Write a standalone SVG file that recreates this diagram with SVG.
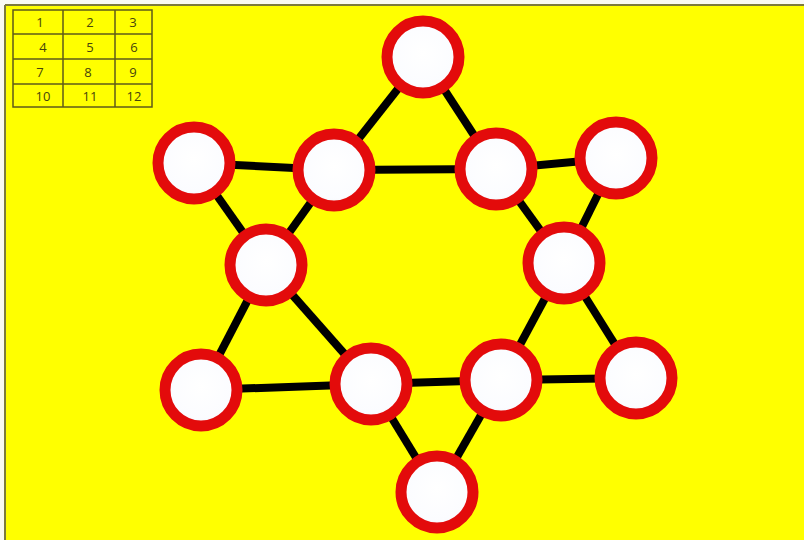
<svg xmlns="http://www.w3.org/2000/svg" width="804" height="540" viewBox="0 0 804 540">
<defs>
<radialGradient id="fill" cx="50%" cy="45%" r="55%">
<stop offset="0%" stop-color="#ffffff"/>
<stop offset="80%" stop-color="#fbfcff"/>
<stop offset="100%" stop-color="#f2f5fb"/>
</radialGradient>
</defs>
<style>
.node{fill:url(#fill);stroke:#e30b0b;stroke-width:11}
.edge{stroke:#000;stroke-width:8;stroke-linecap:butt}
.grid{stroke:#5e5a1a;stroke-width:1.5;fill:none}
.num{font-family:"Open Sans","Liberation Sans",Arial,sans-serif;font-size:13px;fill:#47440c;text-anchor:middle}
</style>
<rect x="0" y="0" width="804" height="540" fill="#fafaf2"/>
<rect x="5" y="5" width="799" height="535" fill="#ffff00"/>
<line x1="5" y1="5" x2="804" y2="5" stroke="#7d7a3c" stroke-width="2"/>
<line x1="5" y1="5" x2="5" y2="540" stroke="#7d7a3c" stroke-width="2"/>
<g id="table">
<rect class="grid" x="13" y="10" width="139" height="97"/>
<line class="grid" x1="63" y1="10" x2="63" y2="107"/>
<line class="grid" x1="115" y1="10" x2="115" y2="107"/>
<line class="grid" x1="13" y1="34" x2="152" y2="34"/>
<line class="grid" x1="13" y1="59" x2="152" y2="59"/>
<line class="grid" x1="13" y1="84" x2="152" y2="84"/>
<text class="num" x="40" y="27">1</text><text class="num" x="90" y="27">2</text><text class="num" x="133" y="27">3</text>
<text class="num" x="43" y="52">4</text><text class="num" x="90" y="52">5</text><text class="num" x="134" y="52">6</text>
<text class="num" x="40" y="77">7</text><text class="num" x="88" y="77">8</text><text class="num" x="133" y="77">9</text>
<text class="num" x="43" y="101">10</text><text class="num" x="90" y="101">11</text><text class="num" x="134" y="101">12</text>
</g>
<g id="connectors">
<line class="edge" x1="423" y1="57" x2="334" y2="170"/>
<line class="edge" x1="423" y1="57" x2="496" y2="169"/>
<line class="edge" x1="194" y1="163" x2="334" y2="170"/>
<line class="edge" x1="334" y1="170" x2="496" y2="169"/>
<line class="edge" x1="496" y1="169" x2="616" y2="158"/>
<line class="edge" x1="194" y1="163" x2="266" y2="265"/>
<line class="edge" x1="334" y1="170" x2="266" y2="265"/>
<line class="edge" x1="496" y1="169" x2="564" y2="263"/>
<line class="edge" x1="616" y1="158" x2="564" y2="263"/>
<line class="edge" x1="266" y1="265" x2="201" y2="390"/>
<line class="edge" x1="266" y1="265" x2="371" y2="384"/>
<line class="edge" x1="564" y1="263" x2="501" y2="380"/>
<line class="edge" x1="564" y1="263" x2="636" y2="378"/>
<line class="edge" x1="201" y1="390" x2="371" y2="384"/>
<line class="edge" x1="371" y1="384" x2="501" y2="380"/>
<line class="edge" x1="501" y1="380" x2="636" y2="378"/>
<line class="edge" x1="371" y1="384" x2="437" y2="492"/>
<line class="edge" x1="501" y1="380" x2="437" y2="492"/>
</g>
<g id="n1"><circle class="node" cx="423" cy="57" r="36"/></g>
<g id="n2"><circle class="node" cx="194" cy="163" r="36"/></g>
<g id="n3"><circle class="node" cx="334" cy="170" r="36"/></g>
<g id="n4"><circle class="node" cx="496" cy="169" r="36"/></g>
<g id="n5"><circle class="node" cx="616" cy="158" r="36"/></g>
<g id="n6"><circle class="node" cx="266" cy="265" r="36"/></g>
<g id="n7"><circle class="node" cx="564" cy="263" r="36"/></g>
<g id="n8"><circle class="node" cx="201" cy="390" r="36"/></g>
<g id="n9"><circle class="node" cx="371" cy="384" r="36"/></g>
<g id="n10"><circle class="node" cx="501" cy="380" r="36"/></g>
<g id="n11"><circle class="node" cx="636" cy="378" r="36"/></g>
<g id="n12"><circle class="node" cx="437" cy="492" r="36"/></g>
</svg>
